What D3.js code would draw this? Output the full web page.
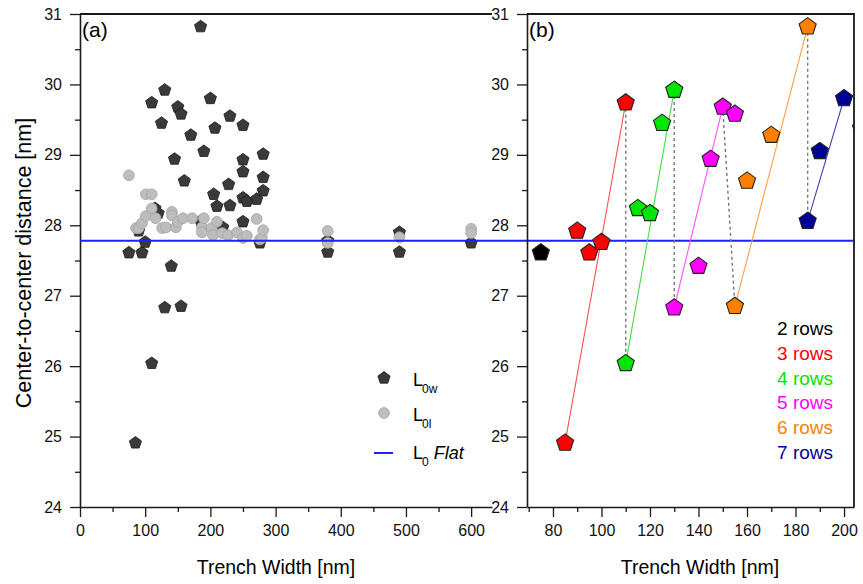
<!DOCTYPE html>
<html><head><meta charset="utf-8">
<script src="https://cdn.jsdelivr.net/npm/d3@7"></script>
<style>
body{margin:0;background:#fff;}
svg{display:block;font-family:"Liberation Sans",Arial,sans-serif;}
</style></head>
<body><svg id="c" width="863" height="584"></svg>
<script>
// ---------- DATA ----------
// Panel (a): L0w (dark pentagons)
const l0wX = [75,85,90,95,100,110,110,115,120,125,130,130,140,145,150,155,155,160,170,185,185,190,200,207,
              205,210,219,228,230,230,250,250,250,250,256,250,271,276,281,281,281,380,380,490,490,600];
const l0wY = [27.61,24.91,27.92,27.61,27.76,29.74,26.04,28.24,28.17,29.45,29.92,26.83,27.42,28.94,29.68,29.58,26.85,28.63,29.28,30.82,28.06,29.05,29.80,29.38,
              28.44,28.27,27.97,28.58,29.55,28.28,29.42,28.93,28.76,28.39,28.34,28.05,28.37,27.75,29.01,28.68,28.49,27.62,27.78,27.90,27.62,27.75];
// Panel (a): L0l (gray circles)
const l0lX = [75,86,90,95,101,101,110,110,116,126,132,141,141,147,150,158,172,187,187,190,202,204,210,218,227,241,250,256,271,276,279,281,380,380,490,600,600];
const l0lY = [28.71,27.96,27.96,28.03,28.13,28.44,28.44,28.24,28.10,27.96,27.97,28.19,28.14,27.97,28.05,28.10,28.10,27.97,27.90,28.10,27.96,27.86,28.05,27.89,27.86,27.90,27.82,27.85,28.09,27.80,27.82,27.93,27.92,27.75,27.83,27.95,27.89];
const flatL0 = 27.78;

// Panel (b): rows groups
const rowLabels = ["2 rows","3 rows","4 rows","5 rows","6 rows","7 rows"];
const rowColors = ["#000000","#ff0000","#00e600","#ff00ff","#ff8000","#000099"];
const rowLineColors = ["#000000","#ff5050","#40e040","#ff50ff","#ffa040","#4040c0"];
const rows2X = [75], rows2Y = [27.61];
const rows3X = [85,90,95,100,110], rows3Y = [24.91,27.92,27.61,27.76,29.74];
const rows4X = [110,115,120,125,130], rows4Y = [26.04,28.24,28.17,29.45,29.92];
const rows5X = [130,140,145,150,155], rows5Y = [26.83,27.42,28.94,29.68,29.58];
const rows6X = [155,160,170,185], rows6Y = [26.85,28.63,29.28,30.82];
const rows7X = [185,190,200,207], rows7Y = [28.06,29.05,29.80,29.38];

const xTicksA = [0,100,200,300,400,500,600];
const xTicksB = [80,100,120,140,160,180,200];
const yTicks = [24,25,26,27,28,29,30,31];

// ---------- SCALES ----------
const svg = d3.select("#c");
const yS = d3.scaleLinear([24,31],[507,14]);
const xA = d3.scaleLinear([0,632],[80,492]);
const xB = d3.scaleLinear([69.3,204.1],[527,854]);

function pent(r){
  const pts = d3.range(5).map(k=>{const a=-Math.PI/2+k*2*Math.PI/5;return [r*Math.cos(a),r*Math.sin(a)];});
  return "M"+pts.map(p=>p.join(",")).join("L")+"Z";
}
const axisColor="#1a1a1a";
function styleAxis(g){
  g.selectAll("path.domain").attr("stroke",axisColor).attr("stroke-width",1.6);
  g.selectAll(".tick line").attr("stroke",axisColor).attr("stroke-width",1.3);
  g.selectAll(".tick text").attr("font-size",16).attr("fill","#111").attr("font-family","Liberation Sans, Arial, sans-serif");
}
function drawAxes(x, xt, xMinor, left){
  const gx = svg.append("g").attr("transform","translate(0,507)")
    .call(d3.axisBottom(x).tickValues(xt).tickFormat(d3.format("d")).tickSize(10).tickPadding(8).tickSizeOuter(0));
  styleAxis(gx);
  const gxm = svg.append("g").attr("transform","translate(0,507)")
    .call(d3.axisBottom(x).tickValues(xMinor).tickSize(5).tickFormat("").tickSizeOuter(0));
  styleAxis(gxm); gxm.select("path.domain").remove();
  const gy = svg.append("g").attr("transform",`translate(${left},0)`)
    .call(d3.axisLeft(yS).tickValues(yTicks).tickFormat(d3.format("d")).tickSize(10).tickPadding(8).tickSizeOuter(0));
  styleAxis(gy);
  const gym = svg.append("g").attr("transform",`translate(${left},0)`)
    .call(d3.axisLeft(yS).tickValues(d3.range(24.5,31,1)).tickSize(5).tickFormat("").tickSizeOuter(0));
  styleAxis(gym); gym.select("path.domain").remove();
}

// ---------- PANEL A ----------
drawAxes(xA, xTicksA, [50,150,250,350,450,550], 80);
svg.append("line").attr("x1",80).attr("x2",492).attr("y1",14).attr("y2",14).attr("stroke",axisColor).attr("stroke-width",1.8);

svg.append("g").selectAll("path").data(l0wX.map((d,i)=>[d,l0wY[i]])).join("path")
  .attr("d",pent(6.4)).attr("transform",d=>`translate(${xA(d[0])},${yS(d[1])})`)
  .attr("fill","#3a3a3a").attr("stroke","#1c1c1c").attr("stroke-width",0.8);
svg.append("g").selectAll("circle").data(l0lX.map((d,i)=>[d,l0lY[i]])).join("circle")
  .attr("cx",d=>xA(d[0])).attr("cy",d=>yS(d[1])).attr("r",5.4)
  .attr("fill","#bdbdbd").attr("stroke","#a5a5a5").attr("stroke-width",0.8);

// ---------- PANEL B ----------
svg.append("rect").attr("x",527).attr("y",14).attr("width",327).attr("height",493)
  .attr("fill","#fff").attr("stroke","none");
// flat line across both panels
svg.append("line").attr("x1",xA(0)).attr("x2",xB(204.1)).attr("y1",yS(flatL0)).attr("y2",yS(flatL0))
  .attr("stroke","#1f1fff").attr("stroke-width",2);

drawAxes(xB, xTicksB, [70,90,110,130,150,170,190], 527);
svg.append("path").attr("d",`M527,14H854V507`).attr("fill","none").attr("stroke",axisColor).attr("stroke-width",1.8);

svg.append("defs").append("clipPath").attr("id","clipB").append("rect")
  .attr("x",527).attr("y",14).attr("width",327).attr("height",493);
const gB = svg.append("g").attr("clip-path","url(#clipB)");

const groups = [[rows2X,rows2Y],[rows3X,rows3Y],[rows4X,rows4Y],[rows5X,rows5Y],[rows6X,rows6Y],[rows7X,rows7Y]];
// dashed transitions: top of one group to bottom of next
const trans = [[rows3X,rows3Y,rows4X,rows4Y],[rows4X,rows4Y,rows5X,rows5Y],[rows5X,rows5Y,rows6X,rows6Y],[rows6X,rows6Y,rows7X,rows7Y]];
trans.forEach(([ax,ay,bx,by])=>{
  const i = ay.indexOf(d3.max(ay));
  gB.append("line").attr("x1",xB(ax[i])).attr("x2",xB(bx[0])).attr("y1",yS(ay[i])).attr("y2",yS(by[0]))
    .attr("stroke","#777").attr("stroke-width",1.4).attr("stroke-dasharray","3,3");
});
// colored lines from first point to highest point
groups.forEach(([gx,gy],k)=>{
  if(gx.length<2) return;
  const i = gy.indexOf(d3.max(gy));
  gB.append("line").attr("x1",xB(gx[0])).attr("y1",yS(gy[0])).attr("x2",xB(gx[i])).attr("y2",yS(gy[i]))
    .attr("stroke",rowLineColors[k]).attr("stroke-width",1.1);
});
groups.forEach(([gx,gy],k)=>{
  gB.append("g").selectAll("path").data(gx.map((d,i)=>[d,gy[i]])).join("path")
    .attr("d",pent(9)).attr("transform",d=>`translate(${xB(d[0])},${yS(d[1])})`)
    .attr("fill",rowColors[k]).attr("stroke","#222").attr("stroke-width",1.1);
});

// ---------- TEXT ----------
svg.append("text").attr("x",82).attr("y",37).attr("font-size",21).text("(a)");
svg.append("text").attr("x",529).attr("y",37).attr("font-size",21).text("(b)");
svg.append("text").attr("x",276).attr("y",574).attr("text-anchor","middle").attr("font-size",19.5).text("Trench Width [nm]");
svg.append("text").attr("x",700).attr("y",574).attr("text-anchor","middle").attr("font-size",19.5).text("Trench Width [nm]");
svg.append("text").attr("transform","translate(31,263) rotate(-90)").attr("text-anchor","middle").attr("font-size",21.5).text("Center-to-center distance [nm]");

rowLabels.forEach((t,k)=>{
  svg.append("text").attr("x",833).attr("y",335+k*24.8).attr("text-anchor","end")
    .attr("font-size",19).attr("fill",rowColors[k]).text(t);
});

// legend (a)
const lg = svg.append("g");
lg.append("path").attr("d",pent(6.4)).attr("transform","translate(384,378)").attr("fill","#3a3a3a").attr("stroke","#1c1c1c").attr("stroke-width",0.8);
lg.append("circle").attr("cx",384).attr("cy",413).attr("r",5.4).attr("fill","#bdbdbd").attr("stroke","#a5a5a5").attr("stroke-width",0.8);
lg.append("line").attr("x1",374).attr("x2",393).attr("y1",453).attr("y2",453).attr("stroke","#1f1fff").attr("stroke-width",2);
const legTxt = [["0w","",386],["0l","",421],["0"," Flat",459]];
legTxt.forEach(([sub,rest,yb])=>{
  const t = lg.append("text").attr("x",413).attr("y",yb).attr("font-size",18);
  t.append("tspan").text("L");
  t.append("tspan").attr("font-size",12).attr("dy",7).attr("dx",-1).text(sub);
  if(rest) t.append("tspan").attr("dy",-7).attr("font-style","italic").text(rest);
});
</script></body></html>
